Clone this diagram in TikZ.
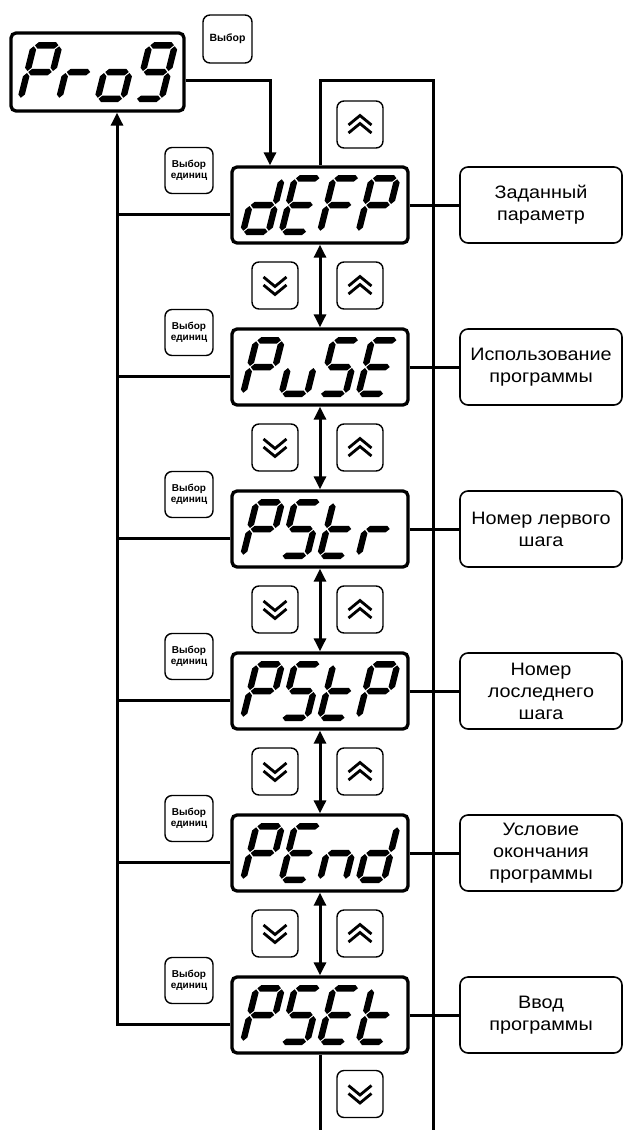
\documentclass[tikz,border=0pt]{standalone}
\usepackage{fontspec}
\setmainfont{Liberation Sans}
\newfontfamily\descfont[FakeStretch=1.1]{Liberation Sans}
\usetikzlibrary{arrows.meta}

% seven-segment pieces, local coords: u right, v up (pt)
\newcommand\hsg[1]{\fill (4.25,#1) -- (7.5,{#1+3.25}) -- (24.5,{#1+3.25}) -- (27.75,#1) -- (24.5,{#1-3.25}) -- (7.5,{#1-3.25}) -- cycle;}
\newcommand\vsg[3]{\fill (#1,#2) -- ({#1+3.25},{#2+3.25}) -- ({#1+3.25},{#3-3.25}) -- (#1,#3) -- ({#1-3.25},{#3-3.25}) -- ({#1-3.25},{#2+3.25}) -- cycle;}
\newcommand\dsega{\hsg{56.75}}
\newcommand\dsegg{\hsg{30}}
\newcommand\dsegd{\hsg{3.25}}
\newcommand\dsegf{\vsg{3.25}{31}{55.75}}
\newcommand\dsege{\vsg{3.25}{4.25}{29}}
\newcommand\dsegb{\vsg{28.75}{31}{55.75}}
\newcommand\dsegc{\vsg{28.75}{4.25}{29}}
\newcommand\sevdigit[3]{%
  \begin{scope}[shift={(#1,#2)},x=1pt,y=1pt,xslant=0.25]
    \foreach \s in {#3}{\csname dseg\s\endcsname}
  \end{scope}}
% four digits in a display whose centre is (#1,#2)
\newcommand\fourdigits[6]{%
  \sevdigit{#1-81}{#2+30}{#3}%
  \sevdigit{#1-42.5}{#2+30}{#4}%
  \sevdigit{#1-4}{#2+30}{#5}%
  \sevdigit{#1+34.5}{#2+30}{#6}}
\newcommand\chdown[1]{%
  \begin{scope}[shift={(#1.center)}]
    \draw[chev] (-11.5,-8.5) -- (0,1) -- (11.5,-8.5);
    \draw[chev] (-11.5,-0.5) -- (0,9) -- (11.5,-0.5);
  \end{scope}}
\newcommand\chup[1]{%
  \begin{scope}[shift={(#1.center)}]
    \draw[chev] (-11.5,8.5) -- (0,-1) -- (11.5,8.5);
    \draw[chev] (-11.5,0.5) -- (0,-9) -- (11.5,0.5);
  \end{scope}}

\begin{document}
\begin{tikzpicture}[x=1pt,y=-1pt,
  disp/.style={draw, line width=3.3pt, rounded corners=5pt, minimum width=176pt, minimum height=76pt, inner sep=0pt},
  desc/.style={draw, line width=1.6pt, rounded corners=8pt, minimum width=162pt, minimum height=76pt, inner sep=0pt, align=center, font=\descfont\fontsize{18}{22}\selectfont},
  btn/.style={draw, line width=1.4pt, rounded corners=7pt, minimum width=46pt, minimum height=47pt, inner sep=0pt},
  selbtn/.style={btn, minimum width=48pt, minimum height=46pt, align=center, font=\bfseries\fontsize{10}{11}\selectfont},
  chev/.style={line width=2.8pt, line join=miter},
  conn/.style={line width=3pt, line join=miter},
  arr/.style={conn, -{Triangle[width=12pt,length=13pt]}},
  darr/.style={conn, {Triangle[width=12pt,length=13pt]}-{Triangle[width=12pt,length=13pt]}}
]
\useasboundingbox (0,0) rectangle (624,1130);

% top display and button
\node[disp, minimum width=173pt, minimum height=78pt] (prog) at (97.5,72) {};
\sevdigit{16.5}{102}{a,b,e,f,g}
\sevdigit{55}{102}{e,g}
\sevdigit{93.5}{102}{c,d,e,g}
\sevdigit{132}{102}{a,b,c,d,f,g}
\node[btn, minimum width=49pt, minimum height=48pt, font=\bfseries\fontsize{10.5}{11}\selectfont] (vyb) at (227.5,39) {Выбор};

% displays
\node[disp] (d1) at (320,205) {};
\node[disp] (d2) at (320,367) {};
\node[disp] (d3) at (320,529) {};
\node[disp] (d4) at (320,691) {};
\node[disp] (d5) at (320,853) {};
\node[disp] (d6) at (320,1015) {};
\fourdigits{320}{205}{b,c,d,e,g}{a,d,e,f,g}{a,e,f,g}{a,b,e,f,g}
\fourdigits{320}{367}{a,b,e,f,g}{c,d,e}{a,c,d,f,g}{a,d,e,f,g}
\fourdigits{320}{529}{a,b,e,f,g}{a,c,d,f,g}{d,e,f,g}{e,g}
\fourdigits{320}{691}{a,b,e,f,g}{a,c,d,f,g}{d,e,f,g}{a,b,e,f,g}
\fourdigits{320}{853}{a,b,e,f,g}{a,d,e,f,g}{c,e,g}{b,c,d,e,g}
\fourdigits{320}{1015}{a,b,e,f,g}{a,c,d,f,g}{a,d,e,f,g}{d,e,f,g}

% descriptions
\node[desc] (t1) at (541,205) {Заданный\\параметр};
\node[desc] (t2) at (541,367) {Использование\\программы};
\node[desc] (t3) at (541,529) {Номер лервого\\шага};
\node[desc] (t4) at (541,691) {Номер\\лоследнего\\шага};
\node[desc] (t5) at (541,853) {Условие\\окончания\\программы};
\node[desc] (t6) at (541,1015) {Ввод\\программы};

% "Выбор единиц" buttons
\node[selbtn] (s1) at (189,170.5) {Выбор\\единиц};
\node[selbtn] (s2) at (189,332.5) {Выбор\\единиц};
\node[selbtn] (s3) at (189,494.5) {Выбор\\единиц};
\node[selbtn] (s4) at (189,656.5) {Выбор\\единиц};
\node[selbtn] (s5) at (189,818.5) {Выбор\\единиц};
\node[selbtn] (s6) at (189,980.5) {Выбор\\единиц};

% up / down buttons
\node[btn] (u0) at (360,124.5) {};
\node[btn] (dn1) at (275,285.5) {};
\node[btn] (up1) at (360,285.5) {};
\node[btn] (dn2) at (275,447.5) {};
\node[btn] (up2) at (360,447.5) {};
\node[btn] (dn3) at (275,609.5) {};
\node[btn] (up3) at (360,609.5) {};
\node[btn] (dn4) at (275,771.5) {};
\node[btn] (up4) at (360,771.5) {};
\node[btn] (dn5) at (275,933.5) {};
\node[btn] (up5) at (360,933.5) {};
\node[btn] (dn6) at (360,1094) {};
\chup{u0}
\chdown{dn1}\chup{up1}
\chdown{dn2}\chup{up2}
\chdown{dn3}\chup{up3}
\chdown{dn4}\chup{up4}
\chdown{dn5}\chup{up5}
\chdown{dn6}

% coordinates
\coordinate (chtop) at (433,80);
\coordinate (chbot) at (433,1130);
\coordinate (bot) at (320,1130);
\coordinate (lx) at (117,0);

% connectors
\draw[arr] ([yshift=-8pt]prog.east) -| ([xshift=-50pt]d1.north);
\draw[conn] (d1.north) -- (d1.north |- chtop) -- (chtop) -- (chbot);
\draw[conn] (d6.south) -- (bot);
\draw[darr] (d1.south) -- (d2.north);
\draw[darr] (d2.south) -- (d3.north);
\draw[darr] (d3.south) -- (d4.north);
\draw[darr] (d4.south) -- (d5.north);
\draw[darr] (d5.south) -- (d6.north);
\draw[conn] (d1.east) -- (t1.west);
\draw[conn] (d2.east) -- (t2.west);
\draw[conn] (d3.east) -- (t3.west);
\draw[conn] (d4.east) -- (t4.west);
\draw[conn] (d5.east) -- (t5.west);
\draw[conn] (d6.east) -- (t6.west);
\draw[conn] ([yshift=-9pt]d1.west) -- ([yshift=-9pt]d1.west -| lx);
\draw[conn] ([yshift=-9pt]d2.west) -- ([yshift=-9pt]d2.west -| lx);
\draw[conn] ([yshift=-9pt]d3.west) -- ([yshift=-9pt]d3.west -| lx);
\draw[conn] ([yshift=-9pt]d4.west) -- ([yshift=-9pt]d4.west -| lx);
\draw[conn] ([yshift=-9pt]d5.west) -- ([yshift=-9pt]d5.west -| lx);
\draw[arr] ([yshift=-9pt]d6.west) -- ([yshift=-9pt]d6.west -| lx) -- (prog.south -| lx);
\end{tikzpicture}
\end{document}
